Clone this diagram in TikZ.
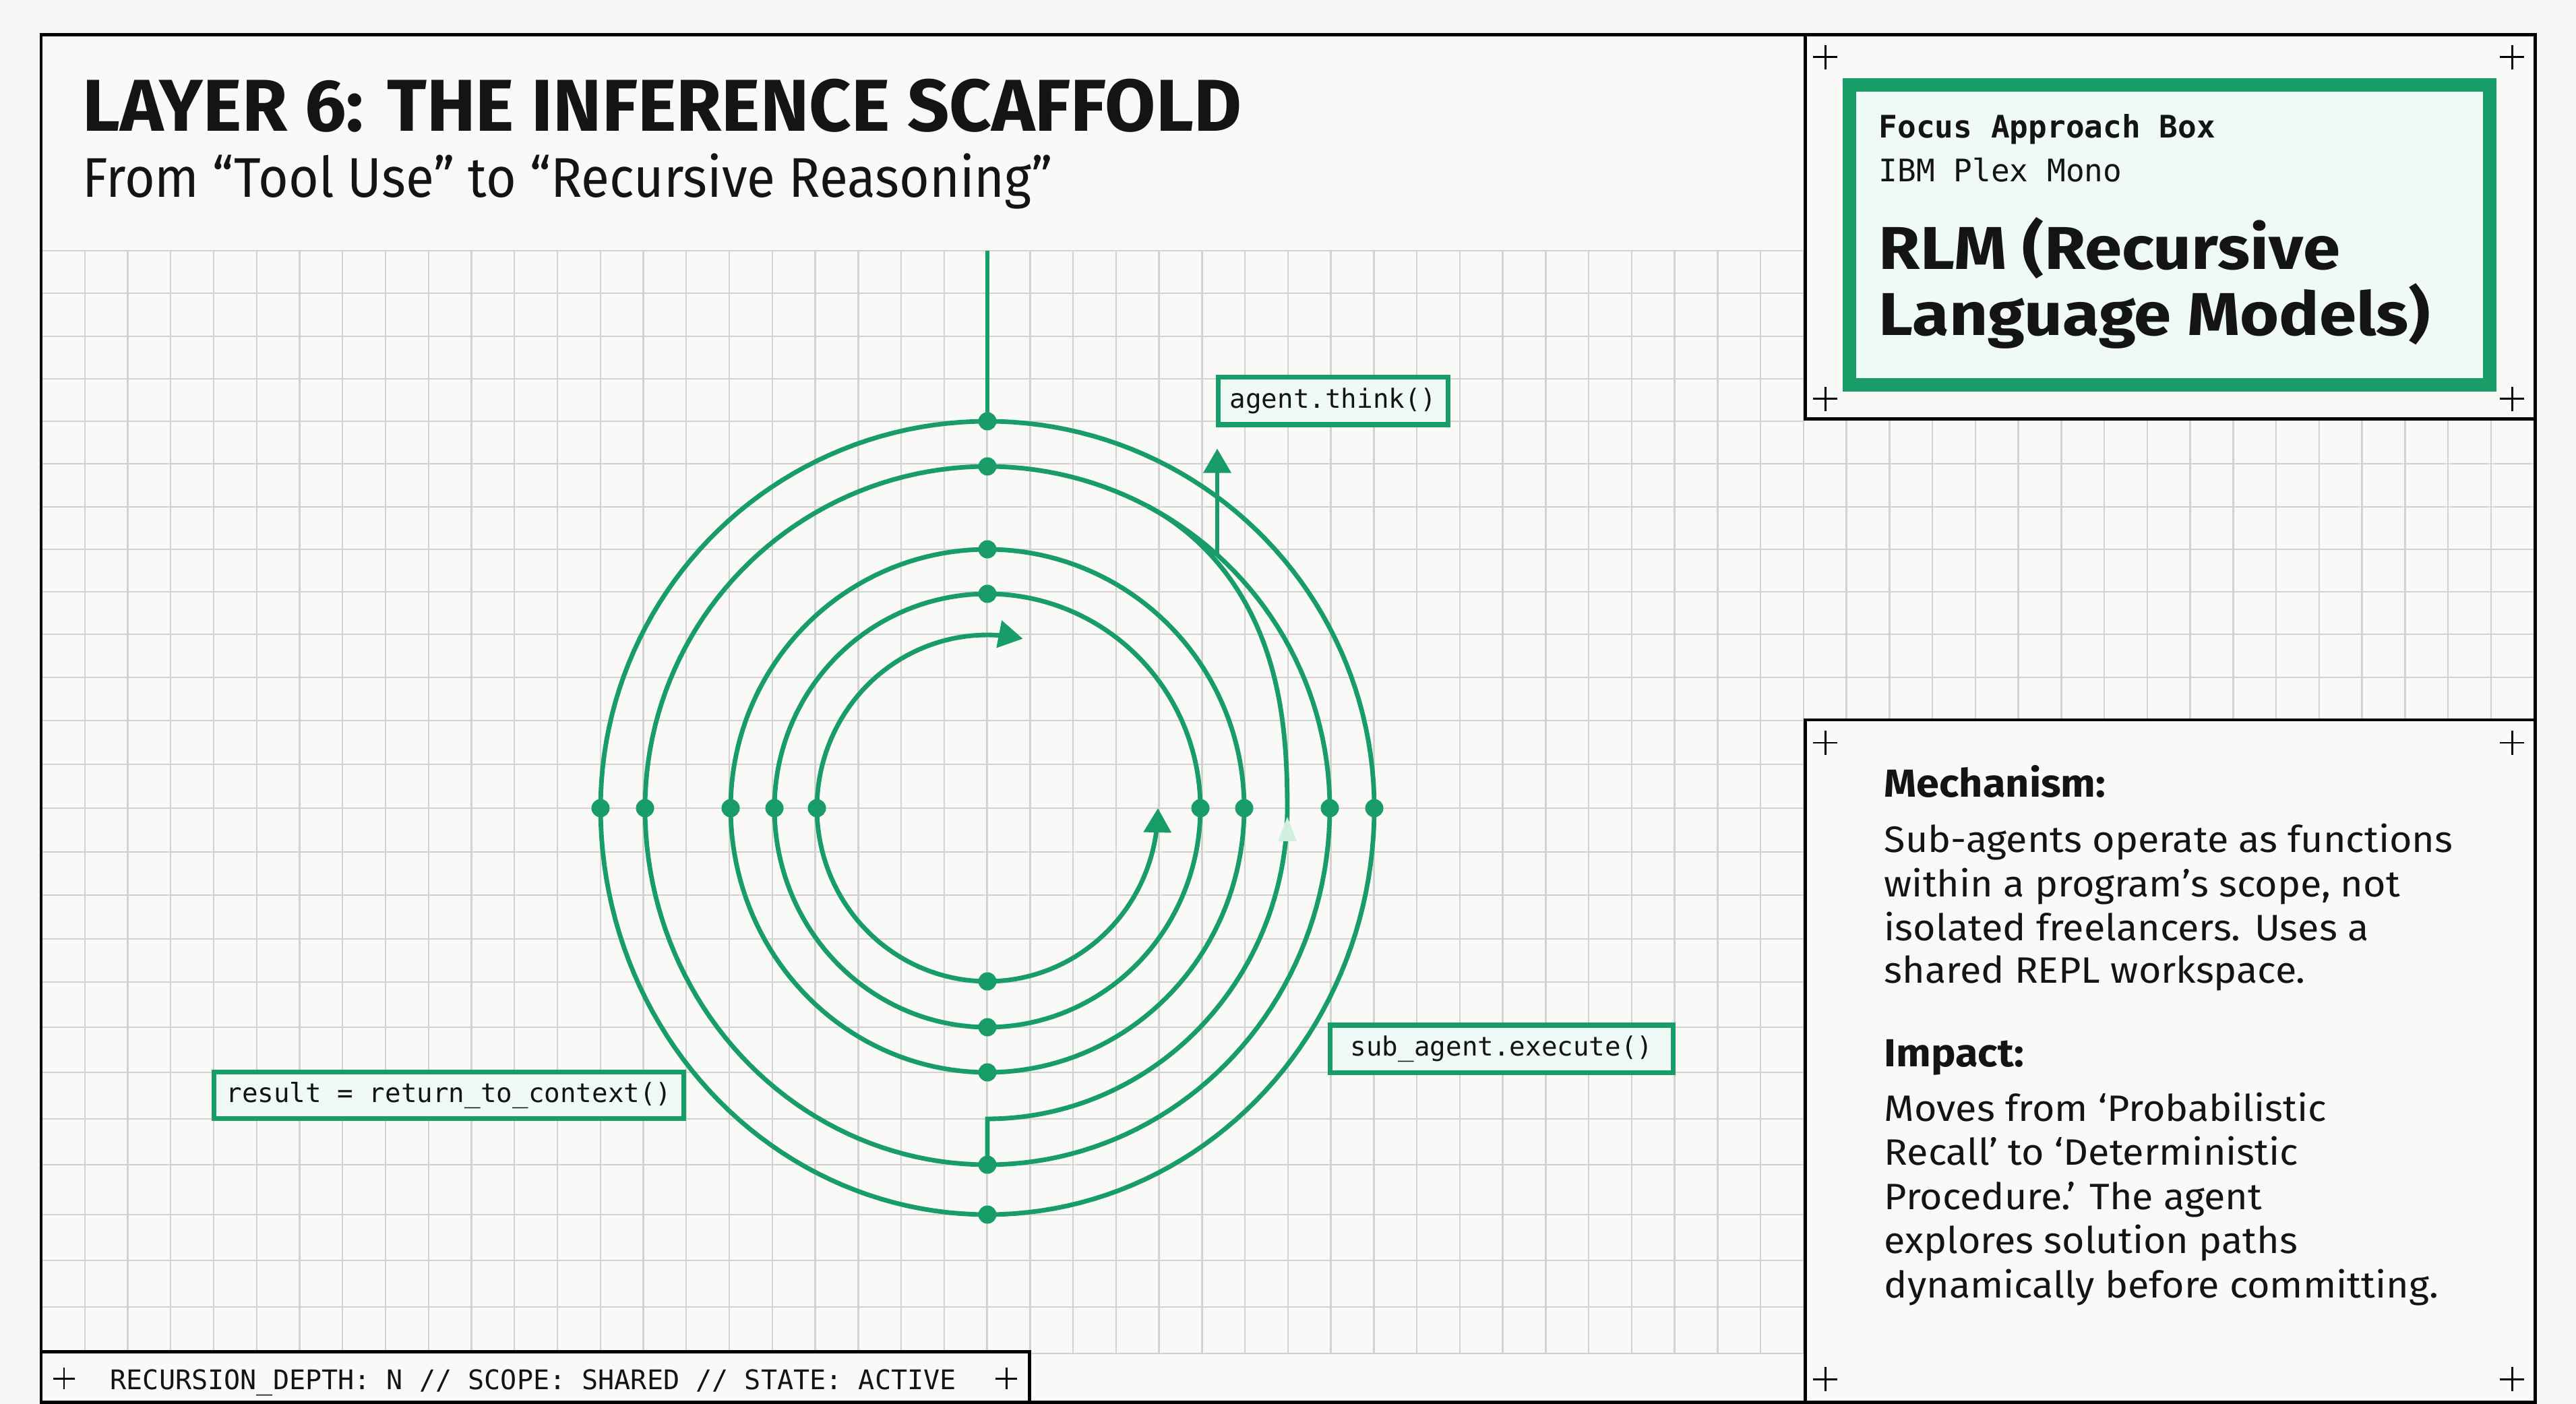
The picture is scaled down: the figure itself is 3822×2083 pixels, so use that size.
\documentclass[tikz,border=0pt]{standalone}
\usepackage{fontspec}
\usetikzlibrary{arrows.meta}
\newfontfamily\sansf{Fira Sans}
\newfontfamily\sansw[FakeStretch=1.055]{Fira Sans}
\newfontfamily\sansr[FakeStretch=1.11]{Fira Sans}
\newfontfamily\sansn[FakeStretch=0.925]{Fira Sans}
\newfontfamily\monof{DejaVu Sans Mono}
\definecolor{grn}{RGB}{24,156,104}
\definecolor{bgc}{RGB}{245,245,244}
\definecolor{panelc}{RGB}{249,249,248}
\definecolor{gridc}{RGB}{210,210,210}
\definecolor{mintc}{RGB}{239,249,245}
\definecolor{faintc}{RGB}{210,238,225}
\definecolor{inkc}{RGB}{20,20,20}
\begin{document}
\begin{tikzpicture}[x=0.01cm,y=-0.01cm,
  blkframe/.style={line width=1.42pt, draw=black},
  ringline/.style={line width=1.95pt, draw=grn},
  dotnode/.style={circle, fill=grn, inner sep=0pt, minimum size=0.27cm},
  codebox/.style={draw=grn, line width=2pt, fill=mintc, inner sep=0pt,
    font=\monof\fontsize{11.15}{13}\selectfont, text=inkc},
  crossmark/.style={line width=0.85pt, draw=black},
  gridline/.style={draw=gridc, line width=0.7pt},
  arrowtip/.style={-{Triangle[length=0.36cm,width=0.40cm]}},
  txt/.style={inner sep=0pt, anchor=base west, text=inkc},
  bodytxt/.style={txt, font=\sansw\fontsize{15.5}{18}\selectfont},
  headtxt/.style={txt, font=\sansw\bfseries\fontsize{16.5}{19}\selectfont},
  declare function={armu(\t)=min(max((\t-0)/62,0),1);
                    arms(\t)=armu(\t)*armu(\t)*(3-2*armu(\t));}
]
% page and bounding box
\useasboundingbox (0,0) rectangle (3822,2083);
\fill[bgc] (0,0) rectangle (3822,2083);
\fill[panelc] (61,52) rectangle (3761,2080);

% grid
\foreach \k in {1,...,41} \draw[gridline] ({62+63.75*\k},372) -- ({62+63.75*\k},2008);
\foreach \k in {42,...,57} \draw[gridline] ({62+63.75*\k},622) -- ({62+63.75*\k},1068);
\foreach \yy in {372,435,499,562,625,688,752,815,878,941,1005,1069,1134,1199,1264,1328,1393,1457,1524,1591,1660,1728,1802,1870,1939,2008}
  \draw[gridline] (62,\yy) -- (2678,\yy);
\foreach \yy in {688,752,815,878,941,1005}
  \draw[gridline] (2678,\yy) -- (3761,\yy);

% frames
\draw[blkframe] (61,52) rectangle (3761,2080);
\draw[blkframe, fill=panelc] (2678,52) rectangle (3761,622);
\draw[blkframe, fill=panelc] (2678,1068) rectangle (3761,2080);
\draw[blkframe, fill=panelc] (61,2005) rectangle (1527,2080);

% corner crosses
\foreach \p in {(2708,85),(3727,85),(2708,592),(3727,592),(2708,1102),(3727,1102),(2708,2046),(3727,2046)}
  \draw[crossmark] \p ++(-18,0) -- ++(36,0) \p ++(0,-18) -- ++(0,36);
\foreach \p in {(95,2045),(1493,2045)}
  \draw[crossmark] \p ++(-16,0) -- ++(32,0) \p ++(0,-16) -- ++(0,32);

% title
\node[txt, font=\sansf\bfseries\fontsize{31}{34}\selectfont] (title) at (122,195) {LAYER 6: THE INFERENCE SCAFFOLD};
\node[txt, font=\sansn\fontsize{23.6}{26}\selectfont] (subtitle) at (122,293) {From “Tool Use” to “Recursive Reasoning”};

% status bar
\node[txt, font=\monof\fontsize{11.4}{13}\selectfont] (status) at (163,2061) {RECURSION\_DEPTH: N // SCOPE: SHARED // STATE: ACTIVE};

% focus box
\draw[draw=grn, line width=5.7pt, fill=mintc] (2744,126) rectangle (3694,571);
\node[txt, font=\monof\bfseries\fontsize{13.1}{15}\selectfont] (focus) at (2787,205) {Focus Approach Box};
\node[txt, font=\monof\fontsize{13.1}{15}\selectfont] (plex) at (2787,270) {IBM Plex Mono};
\node[txt, font=\sansr\bfseries\fontsize{25.5}{30}\selectfont] (rlm1) at (2787,400) {RLM (Recursive};
\node[txt, font=\sansr\bfseries\fontsize{25.5}{30}\selectfont] (rlm2) at (2787,498) {Language Models)};

% mechanism / impact
\node[headtxt] (mechh) at (2795,1182) {Mechanism:};
\node[bodytxt] (mech1) at (2795,1264) {Sub-agents operate as functions};
\node[bodytxt] (mech2) at (2795,1330) {within a program’s scope, not};
\node[bodytxt] (mech3) at (2795,1395) {isolated freelancers. Uses a};
\node[bodytxt] (mech4) at (2795,1458) {shared REPL workspace.};
\node[headtxt] (imph) at (2795,1582) {Impact:};
\node[bodytxt] (imp1) at (2795,1663) {Moves from ‘Probabilistic};
\node[bodytxt] (imp2) at (2795,1728) {Recall’ to ‘Deterministic};
\node[bodytxt] (imp3) at (2795,1794) {Procedure.’ The agent};
\node[bodytxt] (imp4) at (2795,1859) {explores solution paths};
\node[bodytxt] (imp5) at (2795,1925) {dynamically before committing.};

% ---------- spiral ----------
\draw[ringline] plot[domain=0:180, samples=91, variable=\t] ({1465+574*cos(\t)},{1199-574*sin(\t)});
\draw[ringline] plot[domain=180:360, samples=91, variable=\t] ({1465+574*cos(\t)},{1199-603*sin(\t)});
\draw[ringline] plot[domain=0:180, samples=91, variable=\t] ({1465+508*cos(\t)},{1199-507*sin(\t)});
\draw[ringline] plot[domain=180:360, samples=91, variable=\t] ({1465+508*cos(\t)},{1199-529*sin(\t)});
\draw[ringline] plot[domain=0:180, samples=91, variable=\t] ({1465+381*cos(\t)},{1199-384*sin(\t)});
\draw[ringline] plot[domain=180:360, samples=91, variable=\t] ({1465+381*cos(\t)},{1199-392*sin(\t)});
\draw[ringline] plot[domain=0:180, samples=91, variable=\t] ({1465+316*cos(\t)},{1199-318*sin(\t)});
\draw[ringline] plot[domain=180:360, samples=91, variable=\t] ({1465+316*cos(\t)},{1199-325*sin(\t)});
% innermost open arc with two tips
\draw[ringline, {Triangle[length=0.36cm,width=0.40cm]}-{Triangle[length=0.36cm,width=0.40cm]}]
  plot[domain=78:360, samples=120, variable=\t] ({1465+253*cos(\t)},{1199-257*sin(\t)});

% dots
\foreach \n/\px/\py in {At/1465/625, Bt/1465/692, Ct/1465/815, Dt/1465/881,
  Al/891/1199, Bl/957/1199, Cl/1084/1199, Dl/1149/1199, El/1212/1199,
  Dr/1781/1199, Cr/1846/1199, Br/1973/1199, Ar/2039/1199,
  Eb/1465/1456, Db/1465/1524, Cb/1465/1591, Bb/1465/1728, Ab/1465/1802}
  \node[dotnode] (\n) at (\px,\py) {};

% vertical entry line
\coordinate (entry) at (1465,372);
\draw[ringline] (entry) -- (At.center);

% spiral arm from ring B bottom, up the right side, merging into ring B
\coordinate (armfoot) at (1465,1660);
\draw[ringline, line join=miter] (Bb.center) -- (armfoot) --
  plot[domain=-90:62, samples=160, variable=\t]
  ({1465+(445+63*arms(\t))*cos(\t)},{1199-(461+46*arms(\t))*sin(\t)});
% faint direction mark on the arm
\fill[faintc] (1910,1212) -- (1896,1248) -- (1924,1248) -- cycle;

% labels
\node[codebox, minimum width=3.40cm, minimum height=0.70cm] (think) at (1978,595) {agent.think()};
\node[codebox, minimum width=5.08cm, minimum height=0.70cm] (subexec) at (2228,1556) {sub\_agent.execute()};
\node[codebox, minimum width=6.96cm, minimum height=0.69cm] (result) at (666,1625) {result = return\_to\_context()};

% arrow to agent.think()
\coordinate (thinkfrom) at (1806,821);
\draw[ringline, arrowtip, shorten >=0.32cm] (thinkfrom) -- (thinkfrom |- think.south);
\end{tikzpicture}
\end{document}
